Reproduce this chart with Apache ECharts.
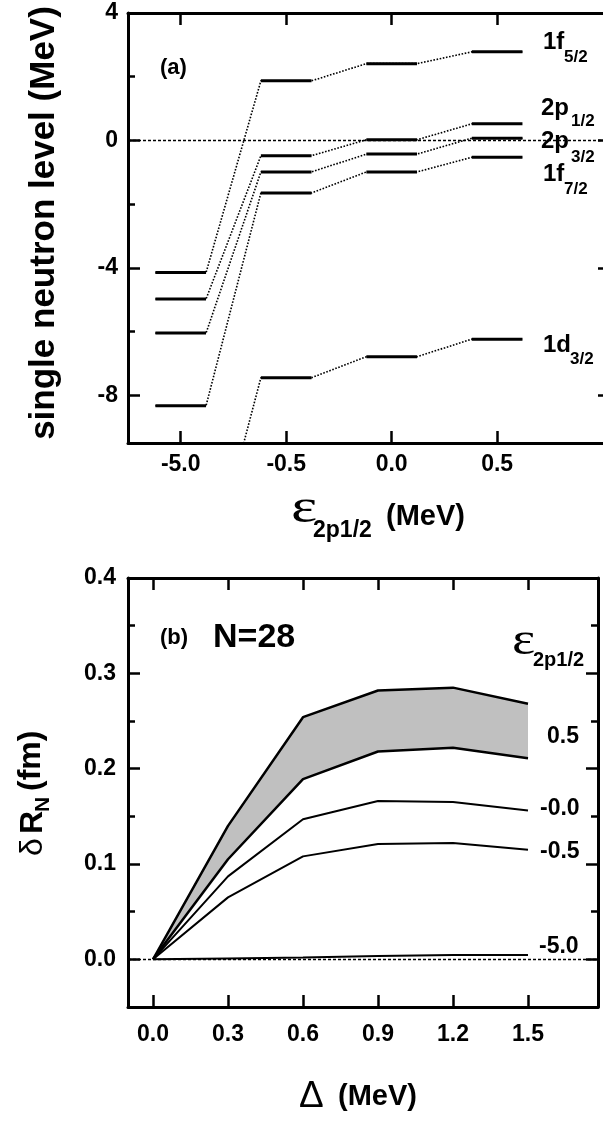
<!DOCTYPE html>
<html>
<head>
<meta charset="utf-8">
<script src="https://cdn.jsdelivr.net/npm/echarts@6/dist/echarts.min.js"></script>
<style>
html, body { margin: 0; padding: 0; background: #fff; }
#main { width: 603px; height: 1121px; }
</style>
</head>
<body>
<div id="main"></div>
<script>
// panel (a): single neutron levels for each eps_2p1/2 column
const epsCats = ['-5.0', '-0.5', '0.0', '0.5'];
const epsIdx = [0, 1, 2, 3];
const lvl1f52 = [-4.15, 1.87, 2.41, 2.78];
const lvl2p12 = [-4.98, -0.48, 0.02, 0.52];
const lvl2p32 = [-6.05, -0.99, -0.43, 0.07];
const lvl1f72 = [-8.33, -1.65, -0.99, -0.53];
const lvl1d32 = [-14.0, -7.45, -6.79, -6.24];
const levelMajor = [-8, -4, 0, 4];
const levelMinor = [-6, -2, 2];

// panel (b): delta R_N vs Delta
const deltaVals = [0, 0.3, 0.6, 0.9, 1.2, 1.5];
const band05Upper = [0, 0.140, 0.254, 0.282, 0.285, 0.268];
const band05Lower = [0, 0.105, 0.189, 0.218, 0.222, 0.211];
const rn00 = [0, 0.087, 0.147, 0.166, 0.165, 0.156];
const rnM05 = [0, 0.065, 0.108, 0.121, 0.122, 0.115];
const rnM50 = [0, 0.001, 0.002, 0.0035, 0.0045, 0.0045];
const rnMajor = [0, 0.1, 0.2, 0.3, 0.4];
const rnMinor = [0.05, 0.15, 0.25, 0.35];

const FONT = '"Liberation Sans", Arial, sans-serif';
const hw = 0.24; // half width of a level bar

function barPoints(vals) {
    const pts = [];
    vals.forEach((v, i) => { pts.push([i - hw, v], [i + hw, v]); });
    return pts;
}
function barSegments(vals) {
    const pts = [];
    vals.forEach((v, i) => { pts.push([i - hw, v], [i + hw, v], [i + 0.5, '-']); });
    return pts;
}
function xy(xs, ys) {
    return xs.map((x, i) => [x, ys[i]]);
}

const lineBlack = (w) => ({ color: '#000', width: w });
const labelStyle = { color: '#000', fontSize: 23, fontWeight: 'bold', fontFamily: FONT };
const zeroLine = {
    silent: true, symbol: 'none', label: { show: false },
    data: [{ yAxis: 0 }],
    lineStyle: { color: '#000', width: 1.4, type: [3, 2] }
};

function frameAxis(extra) {
    return Object.assign({
        type: 'value',
        z: 10,
        offset: 0,
        axisLine: { show: true, onZero: false, lineStyle: lineBlack(3) },
        splitLine: { show: false },
        axisLabel: { show: false },
        axisTick: { show: false }
    }, extra);
}
const noLine = { show: false, onZero: false };

let myChart = echarts.init(document.getElementById('main'));

let levels = [lvl1f52, lvl2p12, lvl2p32, lvl1f72, lvl1d32];
let series = [];

levels.forEach((vals, k) => {
    let s = {
        type: 'line', xAxisIndex: 0, yAxisIndex: 0,
        data: barPoints(vals),
        symbol: 'none', silent: true, z: 2,
        lineStyle: { color: '#000', width: 1.6, type: [1.6, 1.6] }
    };
    if (k === 0) s.markLine = zeroLine;
    series.push(s);
    series.push({
        type: 'line', xAxisIndex: 0, yAxisIndex: 0,
        data: barSegments(vals), connectNulls: false,
        symbol: 'none', silent: true, z: 3,
        lineStyle: lineBlack(3)
    });
});

// shaded band for eps=0.5, polygon between the two edge curves
series.push({
    type: 'custom', xAxisIndex: 2, yAxisIndex: 4,
    data: [0], silent: true, z: 1,
    renderItem: function (params, api) {
        let pts = [];
        deltaVals.forEach((x, i) => pts.push(api.coord([x, band05Upper[i]])));
        for (let i = deltaVals.length - 1; i >= 0; i--) pts.push(api.coord([deltaVals[i], band05Lower[i]]));
        return { type: 'polygon', shape: { points: pts }, style: { fill: '#c0c0c0', stroke: null } };
    }
});
[[band05Upper, 2.5], [band05Lower, 2.5], [rn00, 2], [rnM05, 2], [rnM50, 2]].forEach(([ys, w], k) => {
    let s = {
        type: 'line', xAxisIndex: 2, yAxisIndex: 4,
        data: xy(deltaVals, ys), symbol: 'none', silent: true, z: 3,
        lineStyle: lineBlack(w)
    };
    if (k === 4) s.markLine = zeroLine;
    series.push(s);
});

// text pieces
function txt(text, x, y, font, opts) {
    return Object.assign({
        type: 'text', x: x, y: y, silent: true, z: 20,
        style: Object.assign({ text: text, font: font, fill: '#000', align: 'left', verticalAlign: 'middle' }, opts && opts.style)
    }, opts && opts.el);
}
const B = (px) => 'bold ' + px + 'px ' + FONT;
const N = (px) => px + 'px ' + FONT;
const ROT = { el: { rotation: Math.PI / 2 } };

let graphics = [
    txt('(a)', 160, 68, B(22)),
    txt('1f', 543, 42, B(24)), txt('5/2', 564, 57, B(17)),
    txt('2p', 541, 108, B(24)), txt('1/2', 571, 121, B(17)),
    txt('2p', 541, 141, B(24)), txt('3/2', 571, 157, B(17)),
    txt('1f', 543, 174, B(24)), txt('7/2', 564, 189, B(17)),
    txt('1d', 543, 345, B(24)), txt('3/2', 570, 359, B(17)),
    // y title (a)
    txt('single neutron level (MeV)', 44, 223, B(35), { style: { align: 'center' }, el: { rotation: Math.PI / 2 } }),
    // x title (a)
    txt('\u03b5', 291, 509, '48px "Liberation Serif", serif', { el: { scaleX: 1.3 } }),
    txt('2p1/2', 313, 531, B(23)),
    txt('(MeV)', 386, 517, B(29)),
    // panel (b) texts
    txt('(b)', 160, 638, B(22)),
    txt('N=28', 213, 638, B(34)),
    txt('\u03b5', 512, 642, '46px "Liberation Serif", serif', { el: { scaleX: 1.2 } }),
    txt('2p1/2', 533, 660, B(20)),
    txt('0.5', 547, 737, B(23)),
    txt('-0.0', 540, 809, B(23)),
    txt('-0.5', 540, 852, B(23)),
    txt('-5.0', 539, 947, B(23)),
    // y title (b)
    txt('\u03b4', 33, 856, N(32), ROT),
    txt('R', 33, 834, B(32), ROT),
    txt('N', 43, 812, B(21), ROT),
    txt('(fm)', 31, 791, B(32), ROT),
    // x title (b)
    txt('\u0394', 299, 1097, N(37)),
    txt('(MeV)', 338, 1097, B(29))
];

function ticks(len, vals) {
    return { show: true, inside: true, length: len, lineStyle: lineBlack(2.5), customValues: vals };
}

let options = {
    animation: false,
    backgroundColor: '#fff',
    grid: [
        { left: 128, top: 13, right: -7, bottom: 678, outerBoundsMode: 'none' },
        { left: 128, top: 578, right: 5, bottom: 114, outerBoundsMode: 'none' }
    ],
    xAxis: [
        frameAxis({
            gridIndex: 0, position: 'bottom', min: -0.5, max: 4.07,
            axisTick: ticks(12, epsIdx),
            axisLabel: Object.assign({ show: true, margin: 10, customValues: epsIdx, formatter: v => epsCats[Math.round(v)] }, labelStyle)
        }),
        frameAxis({ gridIndex: 0, position: 'top', min: -0.5, max: 4.07, axisTick: ticks(12, epsIdx) }),
        frameAxis({
            gridIndex: 1, position: 'bottom', min: -0.1, max: 1.78,
            axisTick: ticks(12, deltaVals),
            axisLabel: Object.assign({ show: true, margin: 16, customValues: deltaVals, formatter: v => v.toFixed(1) }, labelStyle)
        }),
        frameAxis({ gridIndex: 1, position: 'top', min: -0.1, max: 1.78, axisTick: ticks(12, deltaVals) })
    ],
    yAxis: [
        frameAxis({
            gridIndex: 0, position: 'left', min: -9.5, max: 4,
            axisTick: ticks(12, levelMajor),
            axisLabel: Object.assign({ show: true, margin: 10, customValues: levelMajor, formatter: v => String(v) }, labelStyle)
        }),
        frameAxis({ gridIndex: 0, position: 'left', min: -9.5, max: 4, axisLine: noLine, axisTick: ticks(7, levelMinor) }),
        frameAxis({ gridIndex: 0, position: 'right', min: -9.5, max: 4, axisTick: ticks(12, levelMajor) }),
        frameAxis({ gridIndex: 0, position: 'right', min: -9.5, max: 4, axisLine: noLine, axisTick: ticks(7, levelMinor) }),
        frameAxis({
            gridIndex: 1, position: 'left', min: -0.05, max: 0.4,
            axisTick: ticks(12, rnMajor),
            axisLabel: Object.assign({ show: true, margin: 12, customValues: rnMajor, formatter: v => v.toFixed(1) }, labelStyle)
        }),
        frameAxis({ gridIndex: 1, position: 'left', min: -0.05, max: 0.4, axisLine: noLine, axisTick: ticks(7, rnMinor) }),
        frameAxis({ gridIndex: 1, position: 'right', min: -0.05, max: 0.4, axisTick: ticks(12, rnMajor) }),
        frameAxis({ gridIndex: 1, position: 'right', min: -0.05, max: 0.4, axisLine: noLine, axisTick: ticks(7, rnMinor) })
    ],
    series: series,
    graphic: { elements: graphics }
};

myChart.setOption(options);
</script>
</body>
</html>
